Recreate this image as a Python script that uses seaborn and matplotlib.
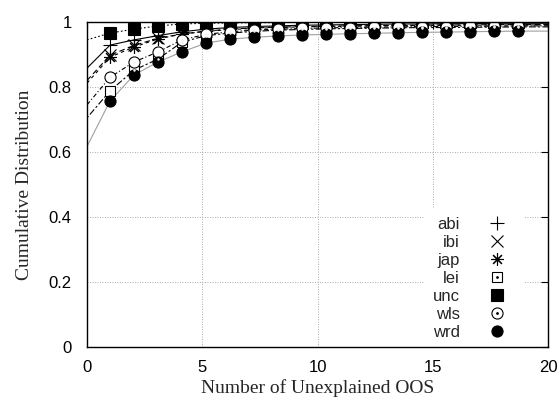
import numpy as np
import pandas as pd
import seaborn as sns
import matplotlib.pyplot as plt
from matplotlib.lines import Line2D
from matplotlib.ticker import FormatStrFormatter
from matplotlib.legend_handler import HandlerTuple

# Data
names = ['abi', 'ibi', 'jap', 'lei', 'unc', 'wls', 'wrd']
x_marks = [1.0, 2.04, 3.08, 4.12, 5.16, 6.2, 7.24, 8.28, 9.32, 10.36,
           11.4, 12.44, 13.48, 14.52, 15.56, 16.6, 17.64, 18.68]

abi = [0.929, 0.945, 0.958, 0.970, 0.978, 0.983, 0.986, 0.988, 0.990,
       0.991, 0.992, 0.993, 0.994, 0.994, 0.995, 0.995, 0.996, 0.996]
ibi = [0.898, 0.928, 0.950, 0.963, 0.972, 0.978, 0.982, 0.984, 0.986,
       0.987, 0.988, 0.989, 0.990, 0.990, 0.991, 0.991, 0.992, 0.992]
jap = [0.892, 0.923, 0.948, 0.963, 0.971, 0.977, 0.980, 0.983, 0.985,
       0.986, 0.987, 0.988, 0.989, 0.989, 0.990, 0.990, 0.991, 0.991]
lei = [0.788, 0.852, 0.886, 0.938, 0.958, 0.966, 0.971, 0.975, 0.977,
       0.979, 0.980, 0.981, 0.982, 0.983, 0.983, 0.984, 0.984, 0.985]
unc = [0.966, 0.978, 0.988, 0.994, 0.996, 0.997, 0.998, 0.998, 0.999,
       0.999, 0.999, 0.999, 1.0, 1.0, 1.0, 1.0, 1.0, 1.0]
wls = [0.830, 0.877, 0.908, 0.945, 0.962, 0.970, 0.975, 0.978, 0.980,
       0.982, 0.983, 0.984, 0.985, 0.986, 0.986, 0.987, 0.987, 0.988]
wrd = [0.757, 0.837, 0.877, 0.908, 0.935, 0.947, 0.953, 0.957, 0.960,
       0.962, 0.964, 0.965, 0.967, 0.968, 0.969, 0.970, 0.971, 0.972]

# value of each curve at x=0 and at the right edge x=20
start_vals = {'abi': 0.858, 'ibi': 0.820, 'jap': 0.812, 'lei': 0.705,
              'unc': 0.945, 'wls': 0.745, 'wrd': 0.617}
end_vals = {'abi': 0.996, 'ibi': 0.992, 'jap': 0.991, 'lei': 0.985,
            'unc': 1.0, 'wls': 0.988, 'wrd': 0.972}

series = {'abi': abi, 'ibi': ibi, 'jap': jap, 'lei': lei,
          'unc': unc, 'wls': wls, 'wrd': wrd}

# styles (gnuplot monochrome look)
line_style = {'abi': '-', 'ibi': (0, (5, 3)), 'jap': (0, (3, 3)),
              'lei': (0, (2, 2, 6, 2)), 'unc': (0, (1.5, 2)),
              'wls': (0, (4, 2, 1, 2)), 'wrd': '-'}
line_color = {'abi': 'black', 'ibi': 'black', 'jap': 'black', 'lei': 'black',
              'unc': 'black', 'wls': 'black', 'wrd': '#a0a0a0'}
marker = {'abi': '+', 'ibi': 'x', 'jap': (8, 2, 0), 'lei': 's',
          'unc': 's', 'wls': 'o', 'wrd': 'o'}
filled = {'abi': True, 'ibi': True, 'jap': True, 'lei': False,
          'unc': True, 'wls': False, 'wrd': True}
msize = {'abi': 10, 'ibi': 8, 'jap': 9, 'lei': 7.5,
         'unc': 8, 'wls': 8, 'wrd': 8}

sns.set_theme(style="white")
plt.rcParams['font.family'] = ['Liberation Sans', 'DejaVu Sans']

fig = plt.figure(figsize=(5.6, 4.01), dpi=100)
ax = fig.add_axes([87 / 560, 1 - 347 / 401, 461 / 560, 325 / 401])

handles = []
for n in names:
    vals = series[n]
    lx = [0.0] + x_marks + [20.0]
    ly = [start_vals[n]] + vals + [end_vals[n]]
    df_line = pd.DataFrame({'x': lx, 'y': ly})
    sns.lineplot(data=df_line, x='x', y='y', ax=ax, color=line_color[n],
                 linestyle=line_style[n], linewidth=0.8, zorder=1.6)

    df_pts = pd.DataFrame({'x': x_marks, 'y': vals})
    if filled[n]:
        kw = dict(markerfacecolor='black', markeredgecolor='black')
    else:
        kw = dict(markerfacecolor='white', markeredgecolor='black')
    mew = 0.8
    sns.lineplot(data=df_pts, x='x', y='y', ax=ax, marker=marker[n],
                 markersize=msize[n], markeredgewidth=mew, linestyle='',
                 color='black', zorder=1.7, **kw)
    h = Line2D([], [], linestyle='', marker=marker[n], markersize=msize[n],
               markeredgewidth=mew, color='black', **kw)
    if not filled[n]:
        sns.lineplot(data=df_pts, x='x', y='y', ax=ax, marker='.',
                     markersize=2, linestyle='', color='black', zorder=1.8)
        dot = Line2D([], [], linestyle='', marker='.', markersize=2,
                     color='black')
        handles.append((h, dot))
    else:
        handles.append(h)

ax.set_xlim(0, 20)
ax.set_ylim(0, 1)
ax.set_xticks([0, 5, 10, 15, 20])
ax.set_yticks([0, 0.2, 0.4, 0.6, 0.8, 1.0])
ax.yaxis.set_major_formatter(FormatStrFormatter('%g'))
ax.grid(True, color='#909090', linestyle=(0, (1, 2)), linewidth=0.6)
for s in ax.spines.values():
    s.set_color('black')
    s.set_linewidth(1.0)
    s.set_zorder(3)
ax.tick_params(direction='in', length=5, width=0.8, top=True, right=True,
               labelsize=12, colors='black', pad=9)
ax.tick_params(axis='y', pad=11)

ax.set_xlabel('Number of Unexplained OOS', family='Liberation Serif',
              fontsize=14, labelpad=3)
ax.set_ylabel('Cumulative Distribution', family='Liberation Serif',
              fontsize=14, labelpad=11)

leg = ax.legend(handles, names, loc='lower right',
                bbox_to_anchor=(0.968, -0.03), markerfirst=False,
                fontsize=12, frameon=True, framealpha=1, facecolor='white',
                edgecolor='none', fancybox=False, borderpad=0.5,
                handlelength=2.4, handletextpad=1.0, labelspacing=0.18,
                handler_map={tuple: HandlerTuple(ndivide=1, pad=0)})
leg.set_zorder(2.2)

fig.savefig('out.png', dpi=100)
